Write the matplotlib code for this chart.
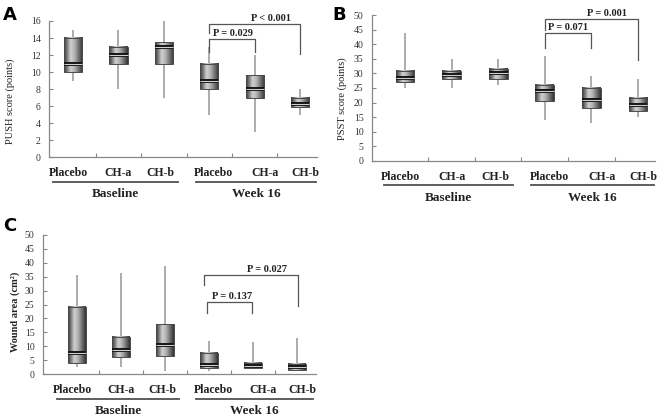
import numpy as np
import matplotlib
matplotlib.use("Agg")
import matplotlib.pyplot as plt
from matplotlib.colors import LinearSegmentedColormap
from matplotlib.patches import Rectangle
from matplotlib.transforms import blended_transform_factory, ScaledTranslation

SERIF = ["Liberation Serif", "DejaVu Serif"]

treatments = ["Placebo", "CH-a", "CH-b", "Placebo", "CH-a", "CH-b"]
periods = ["Baseline", "Week 16"]

# ── DATA (whisker low, Q1, median, Q3, whisker high) ──────────────────────────
push_lo  = [9, 8, 7, 5, 3, 5]
push_q1  = [10, 11, 11, 8, 7, 5.9]
push_med = [11, 12, 13, 9, 8, 6.2]
push_q3  = [14, 13, 13.5, 11, 9.7, 7]
push_hi  = [15, 15, 16, 13, 12, 8]

psst_lo  = [25, 25, 26, 14, 13, 15]
psst_q1  = [27, 28, 28, 20.5, 18, 17]
psst_med = [28.5, 29.5, 30, 24, 21, 19]
psst_q3  = [31, 31, 31.5, 26, 25, 21.5]
psst_hi  = [44, 35, 35, 36, 29, 28]

wound_lo  = [2.5, 2.5, 1, 1, 1.8, 1]
wound_q1  = [4, 6, 6.5, 2, 2, 1.5]
wound_med = [7.5, 8.5, 10.5, 3.2, 3, 2.7]
wound_q3  = [24.2, 13.2, 18, 7.7, 3.8, 3.7]
wound_hi  = [35.5, 36.5, 39, 12, 11.5, 12.8]

# brackets: (left, right, top, left leg end, right leg end, label, label x)
push_brackets = [(4, 5, 13.85, 12.4, 12.4, "P = 0.029", 4.52),
                 (4, 6, 15.65, 14.55, 12.1, "P < 0.001", 5.36)]
psst_brackets = [(4, 5, 43.7, 38.6, 38.6, "P = 0.071", 4.5),
                 (4, 6, 48.6, 44.9, 34.6, "P = 0.001", 5.33)]
wound_brackets = [(3.95, 4.98, 26.0, 21.8, 21.8, "P = 0.137", 4.52),
                  (3.88, 6.02, 35.6, 32.0, 24.5, "P = 0.027", 5.32)]

positions = np.arange(1, 7)
label_x = [0.9, 2.0, 2.93, 4.1, 5.22, 6.12]
group_spans = [(0.55, 3.32), (3.7, 6.35)]

box_cmap = LinearSegmentedColormap.from_list(
    "cyl", [(0, "#353535"), (0.35, "#d0d0d0"), (0.55, "#b4b4b4"), (1, "#333333")])
grad = np.linspace(0, 1, 64).reshape(1, -1)


def draw_panel(ax, lo, q1, med, q3, hi, ylim, ystep, xlim, ylabel, brackets, bold_label, ylab_xy):
    w = 0.4
    for x, a, b, m, c, d in zip(positions, lo, q1, med, q3, hi):
        ax.plot([x, x], [a, d], color="#a6a6a6", lw=1.3, zorder=1, solid_capstyle="butt")
        ax.imshow(grad, cmap=box_cmap, extent=[x - w / 2, x + w / 2, b, c],
                  aspect="auto", zorder=2, interpolation="bilinear")
        ax.add_patch(Rectangle((x - w / 2, b), w, c - b, fill=False, ec="#4a4a4a", lw=0.7, zorder=3))
        ax.plot([x - w / 2, x + w / 2], [m, m], color="#111111", lw=2.8, zorder=4, solid_capstyle="butt")
        ax.plot([x - w / 2, x + w / 2], [m, m], color="#cfcfcf", lw=0.8, zorder=5, solid_capstyle="butt")

    for xl, xr, top, ly, ry, txt, tx in brackets:
        ax.plot([xl, xl, xr, xr], [ly, top, top, ry], color="#555555", lw=0.9, clip_on=False, zorder=6)
        ax.text(tx, top + (ylim * 0.008), txt, ha="center", va="bottom", fontsize=7.5,
                family=SERIF, fontweight="bold", color="#222222", clip_on=False)

    ax.set_xlim(*xlim)
    ax.set_ylim(0, ylim)
    ax.set_yticks(np.arange(0, ylim + 0.1, ystep))
    ax.set_xticks(positions[:-1] + 0.5)
    ax.set_xticklabels([])
    ax.tick_params(axis="both", direction="in", length=3, color="#888888", width=0.8)
    ax.tick_params(axis="y", labelsize=7, pad=6)
    for lab in ax.get_yticklabels():
        lab.set_family(SERIF)
        lab.set_color("#333333")
    for s in ["top", "right"]:
        ax.spines[s].set_visible(False)
    for s in ["left", "bottom"]:
        ax.spines[s].set_color("#888888")
        ax.spines[s].set_linewidth(0.9)

    ax.set_ylabel(ylabel, fontsize=7.5, family=SERIF, color="#222222",
                  fontweight="bold" if bold_label else "normal")
    ax.yaxis.set_label_coords(*ylab_xy)

    trans = blended_transform_factory(ax.transData, ax.transAxes)
    line_trans = trans + ScaledTranslation(0, -0.245, fig.dpi_scale_trans)
    for x, t in zip(label_x, treatments):
        ax.annotate(t, xy=(x, 0), xycoords=trans, xytext=(0, -16), textcoords="offset pixels",
                    ha="center", va="center", fontsize=8.5, family=SERIF, fontweight="bold",
                    color="#222222", annotation_clip=False)
    for (x0, x1), g in zip(group_spans, periods):
        ax.plot([x0, x1], [0, 0], transform=line_trans, color="#505050", lw=1.3, clip_on=False)
        ax.annotate(g, xy=((x0 + x1) / 2, 0), xycoords=trans, xytext=(0, -37),
                    textcoords="offset pixels", ha="center", va="center", fontsize=9.5,
                    family=SERIF, fontweight="bold", color="#222222", annotation_clip=False)


fig = plt.figure(figsize=(6.6, 4.2), dpi=100)
axA = fig.add_axes([0.0742, 0.626, 0.406, 0.324])
axB = fig.add_axes([0.5636, 0.617, 0.4284, 0.347])
axC = fig.add_axes([0.065, 0.1095, 0.414, 0.331])

draw_panel(axA, push_lo, push_q1, push_med, push_q3, push_hi, 16, 2, (0.47, 6.37),
           "PUSH score (points)", push_brackets, False, (-0.127, 0.41))
draw_panel(axB, psst_lo, psst_q1, psst_med, psst_q3, psst_hi, 50, 5, (0.29, 6.36),
           "PSST score (points)", psst_brackets, False, (-0.088, 0.43))
draw_panel(axC, wound_lo, wound_q1, wound_med, wound_q3, wound_hi, 50, 5, (0.23, 6.43),
           "Wound area (cm²)", wound_brackets, True, (-0.084, 0.45))

fig.text(0.005, 0.985, "A", fontsize=13, fontweight="bold", va="top", ha="left")
fig.text(0.503, 0.985, "B", fontsize=13, fontweight="bold", va="top", ha="left")
fig.text(0.005, 0.483, "C", fontsize=13, fontweight="bold", va="top", ha="left")

fig.savefig("out.png", dpi=100)
